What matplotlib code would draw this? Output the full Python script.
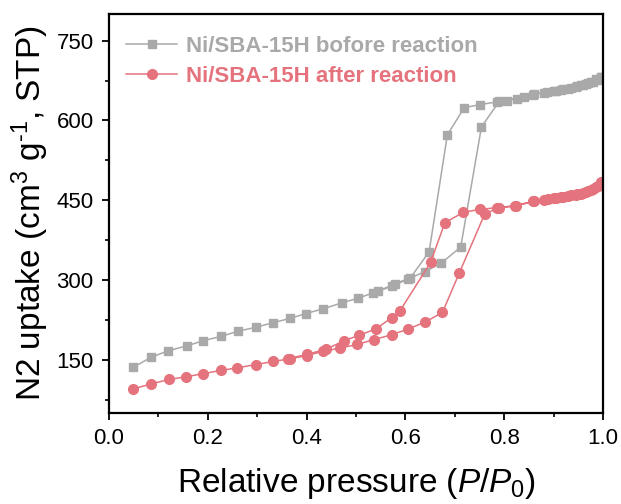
import matplotlib
matplotlib.use("Agg")
import matplotlib.pyplot as plt
from matplotlib.ticker import MultipleLocator, FormatStrFormatter

plt.rcParams['font.family'] = ['Liberation Sans', 'DejaVu Sans']
plt.rcParams['mathtext.fontset'] = 'custom'
plt.rcParams['mathtext.rm'] = 'Liberation Sans'
plt.rcParams['mathtext.it'] = 'Liberation Sans:italic'

# Ni/SBA-15H before reaction: adsorption then desorption branch
before_ads_x = [0.049, 0.086, 0.120, 0.157, 0.191, 0.227, 0.262, 0.297, 0.333, 0.367,
                0.399, 0.434, 0.471, 0.505, 0.535, 0.572, 0.606, 0.640, 0.673, 0.712,
                0.754, 0.790, 0.825, 0.859, 0.886, 0.905, 0.920, 0.935, 0.948, 0.960,
                0.970, 0.980, 0.990, 0.995]
before_ads_y = [136, 155, 167, 176, 186, 194, 204, 211, 220, 228,
                237, 246, 257, 266, 276, 288, 302, 316, 332, 362,
                588, 636, 641, 648, 654, 656, 659, 661, 664, 667,
                670, 673, 677, 681]
before_des_x = [0.995, 0.985, 0.975, 0.965, 0.955, 0.945, 0.930, 0.915, 0.900, 0.880,
                0.860, 0.840, 0.806, 0.786, 0.752, 0.719, 0.685, 0.648, 0.610, 0.579,
                0.545]
before_des_y = [682, 678, 673, 669, 666, 663, 660, 657, 655, 652,
                650, 645, 637, 635, 630, 624, 573, 353, 304, 293,
                279]

# Ni/SBA-15H after reaction
after_ads_x = [0.049, 0.086, 0.122, 0.156, 0.191, 0.227, 0.260, 0.297, 0.333, 0.367,
               0.400, 0.434, 0.468, 0.503, 0.536, 0.572, 0.606, 0.640, 0.675, 0.709,
               0.761, 0.790, 0.822, 0.859, 0.889, 0.905, 0.920, 0.935, 0.948, 0.960,
               0.970, 0.980, 0.990, 0.995]
after_ads_y = [95, 105, 113, 118, 124, 130, 135, 141, 147, 152,
               158, 166, 172, 179, 188, 197, 208, 221, 239, 313,
               425, 436, 440, 448, 453, 455, 457, 459, 461, 464,
               467, 471, 476, 482]
after_des_x = [0.995, 0.985, 0.975, 0.965, 0.955, 0.945, 0.930, 0.915, 0.900, 0.880,
               0.860, 0.823, 0.786, 0.751, 0.717, 0.680, 0.651, 0.589, 0.572, 0.540,
               0.506, 0.476, 0.440, 0.400, 0.362]
after_des_y = [484, 474, 469, 465, 462, 460, 458, 456, 454, 451,
               448, 439, 436, 433, 427, 408, 333, 242, 229, 208,
               196, 186, 170, 160, 152]

labels = ['Ni/SBA-15H bofore reaction', 'Ni/SBA-15H after reaction']
gray = '#A9A9A9'
red = '#E5737D'

fig = plt.figure(figsize=(6.21, 5.04), dpi=100)
ax = fig.add_axes([0.1755, 0.1806, 0.7955, 0.7914])

ax.plot(before_ads_x + before_des_x, before_ads_y + before_des_y, '-s',
        color=gray, lw=1.1, ms=5.8, label=labels[0])
ax.plot(after_ads_x + after_des_x, after_ads_y + after_des_y, '-o',
        color=red, lw=1.1, ms=7, label=labels[1])

ax.set_xlim(0, 1.0)
ax.set_ylim(50, 800)
ax.xaxis.set_major_locator(MultipleLocator(0.2))
ax.xaxis.set_minor_locator(MultipleLocator(0.1))
ax.set_yticks([150, 300, 450, 600, 750])
ax.yaxis.set_minor_locator(MultipleLocator(75))
ax.xaxis.set_major_formatter(FormatStrFormatter('%.1f'))

for s in ax.spines.values():
    s.set_linewidth(1.6)
ax.tick_params(which='major', direction='out', length=5, width=1.3, labelsize=16, pad=6)
ax.tick_params(which='minor', direction='out', length=3, width=1.2)

ax.set_xlabel(r'Relative pressure ($\mathit{P}$/$\mathit{P}_{\mathit{0}}$)', fontsize=24, labelpad=12)
ax.set_ylabel(r'N2 uptake (cm$^3$ g$^{\text{-1}}$, STP)', fontsize=24, labelpad=4)

leg = ax.legend(loc='upper left', bbox_to_anchor=(0.035, 0.945), frameon=False,
                handlelength=2.3, handletextpad=0.4, labelspacing=0.4, borderaxespad=0.0,
                borderpad=0.0, labelcolor='linecolor', prop={'weight': 'bold', 'size': 16})

fig.savefig('out.png', dpi=100)
